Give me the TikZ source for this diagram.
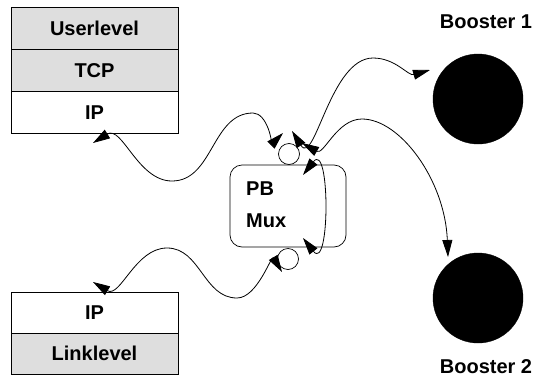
\documentclass[tikz,border=0pt]{standalone}
\usepackage{fontspec}
\setmainfont{Liberation Sans}
\usetikzlibrary{arrows.meta}
\begin{document}
\begin{tikzpicture}[x=1pt,y=-1pt,
  >={Triangle[length=17pt,width=10pt]},
  lbl/.style={font=\fontsize{20}{21}\selectfont\bfseries, inner sep=0pt, text height=14pt, text depth=0pt},
  cell/.style={draw, line width=0.7pt, minimum width=167pt, minimum height=42pt, inner sep=0pt, lbl},
  shaded/.style={fill=black!13},
  booster/.style={circle, fill=black, draw=black, minimum size=90pt, inner sep=0pt},
  port/.style={circle, draw, line width=0.7pt, minimum size=21pt, inner sep=0pt, fill=white},
  muxbox/.style={draw, line width=0.7pt, rounded corners=12pt, minimum width=116pt, minimum height=82pt, inner sep=0pt},
  biarrow/.style={line width=0.8pt, <->}
]
\useasboundingbox (0,0) rectangle (535,378);

% top stack
\node[cell, shaded] (user) at (94.5,28) {Userlevel};
\node[cell, shaded] (tcp) at (94.5,70) {TCP};
\node[cell] (iptop) at (94.5,112) {IP};

% bottom stack
\node[cell, minimum height=41pt] (ipbot) at (94.5,312.5) {IP};
\node[cell, shaded, minimum height=41pt] (link) at (94.5,353.5) {Linklevel};

% boosters
\node[booster] (b1) at (478,99) {};
\node[booster] (b2) at (478,298) {};
\node[lbl] (b1l) at (486,21) {Booster 1};
\node[lbl] (b2l) at (486,366) {Booster 2};

% mux
\node[muxbox] (mux) at (288,206) {};
\node[lbl, anchor=west] (pb) at (246,188) {PB};
\node[lbl, anchor=west] (mx) at (246,220) {Mux};
\node[port] (ptop) at (289,154) {};
\node[port] (pbot) at (288,259) {};

% arrow end points
\coordinate (a1) at (93,143);
\coordinate (a2) at (283,133);
\coordinate (b1a) at (292,131);
\coordinate (b1b) at (430,70);
\coordinate (c1) at (302,143);
\coordinate (c2) at (448,257);
\coordinate (d1) at (93,282);
\coordinate (d2) at (282,272);
\coordinate (m1) at (303,175);
\coordinate (m2) at (303,238);

% connectors
\draw[biarrow] (a1) to[out=32,in=180] (172,181) to[out=0,in=180] (253,113) to[out=0,in=225] (a2);
\draw[biarrow] (b1a) to[out=-58,in=180] (373,58) to[out=0,in=196] (b1b);
\draw[biarrow] (c1) to[out=-30,in=180] (362,119) .. controls (400,119) and (445,180) .. (c2);
\draw[biarrow] (d1) to[out=-31,in=180] (167,248) to[out=0,in=180] (237,298) to[out=0,in=121] (d2);
\draw[biarrow] (m1) to[out=52,in=-52,looseness=1.8] (m2);
\end{tikzpicture}
\end{document}
